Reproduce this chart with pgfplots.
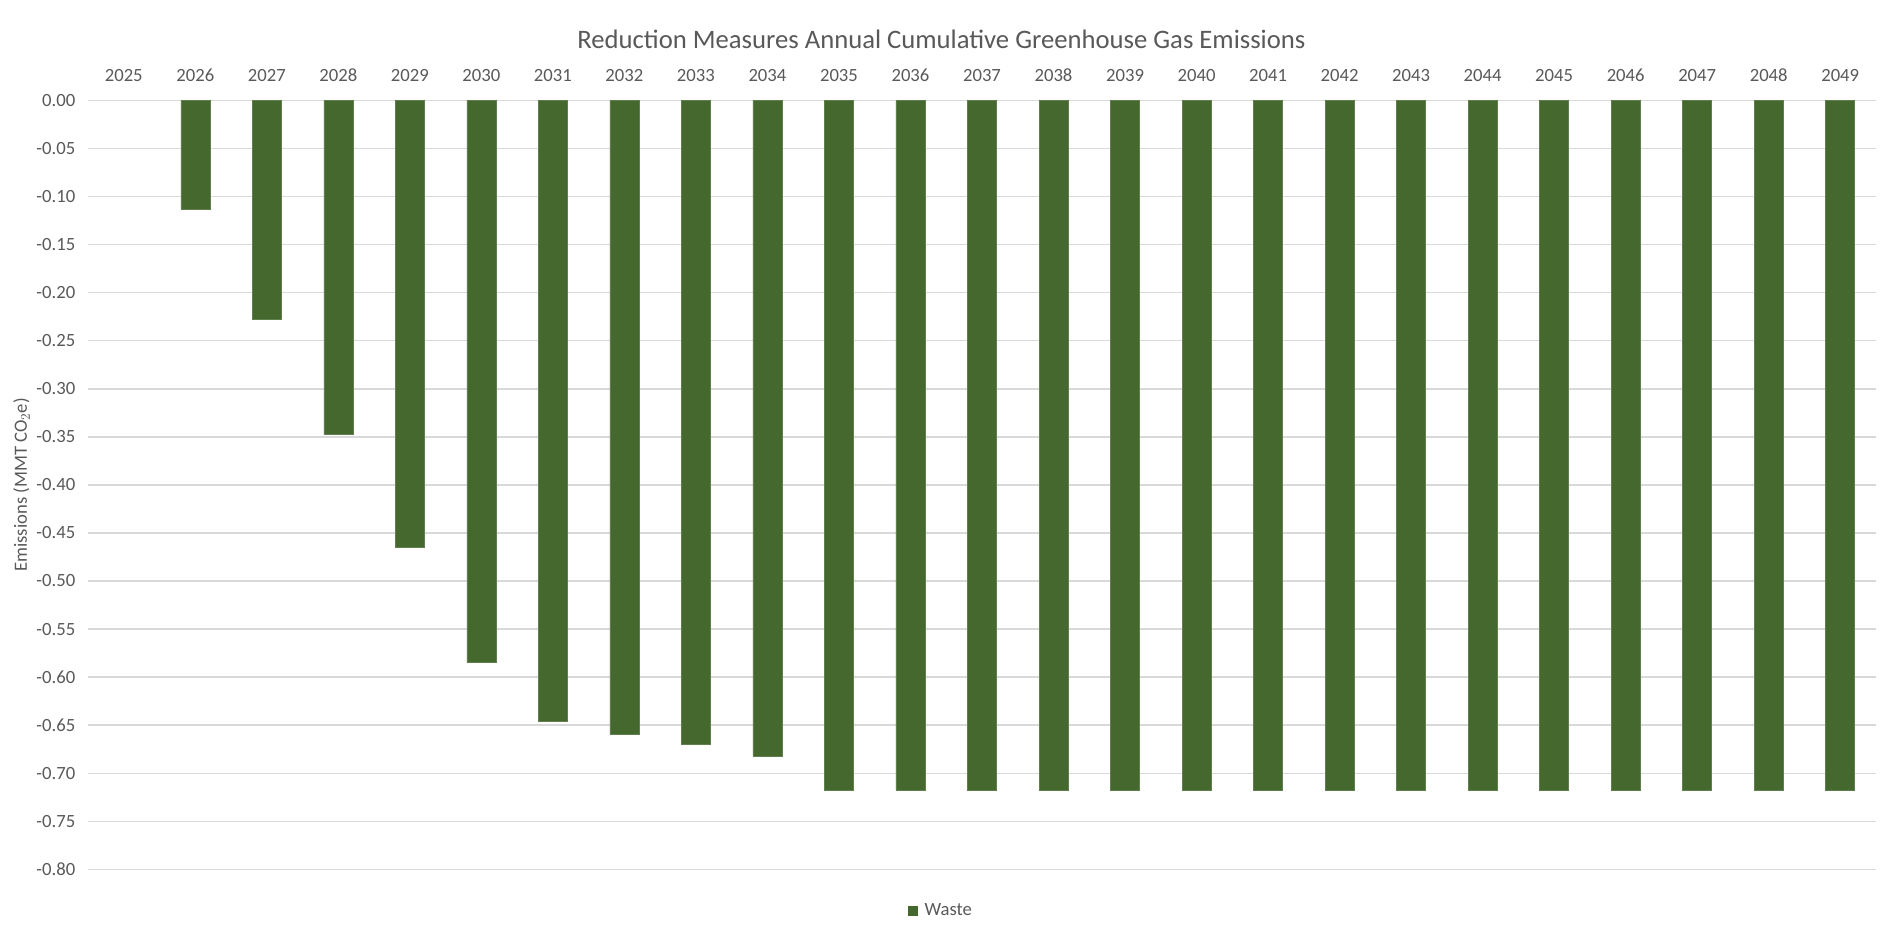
\documentclass[border=0pt]{standalone}
\usepackage{pgfplots}
\pgfplotsset{compat=1.18}
\usepackage{fontspec}
\setmainfont{Carlito}
\definecolor{barg}{RGB}{69,104,46}
\definecolor{txt}{RGB}{89,89,89}
\definecolor{grd}{RGB}{217,217,217}
\begin{document}
\begin{tikzpicture}
\path[use as bounding box] (0,0) rectangle (1412.25pt,702.75pt);
\begin{axis}[
  at={(66pt,50.8pt)}, anchor=south west,
  scale only axis, width=1341pt, height=576.5pt,
  xmin=-0.5, xmax=24.5, ymin=-0.8, ymax=0,
  axis line style={draw=none},
  major tick length=0pt,
  xtick={0,...,24},
  xticklabels={2025,2026,2027,2028,2029,2030,2031,2032,2033,2034,2035,2036,2037,2038,2039,2040,2041,2042,2043,2044,2045,2046,2047,2048,2049},
  xticklabel pos=upper,
  xticklabel style={font=\fontsize{14}{16}\selectfont, text=txt, yshift=11pt},
  ytick={0,-0.05,-0.1,-0.15,-0.2,-0.25,-0.3,-0.35,-0.4,-0.45,-0.5,-0.55,-0.6,-0.65,-0.7,-0.75,-0.8},
  yticklabels={0.00,-0.05,-0.10,-0.15,-0.20,-0.25,-0.30,-0.35,-0.40,-0.45,-0.50,-0.55,-0.60,-0.65,-0.70,-0.75,-0.80},
  yticklabel style={font=\fontsize{14}{16}\selectfont, text=txt, xshift=-6pt},
  ymajorgrids, major grid style={grd, line width=1pt},
  ylabel={Emissions (MMT CO$_2$e)},
  ylabel style={font=\fontsize{14}{16}\selectfont, text=txt, at={(rel axis cs:-0.0372,0.5)}, anchor=center},
  title={Reduction Measures Annual Cumulative Greenhouse Gas Emissions},
  title style={font=\fontsize{20}{24}\selectfont, text=txt, at={(0.4773,1.069)}, anchor=center},
  legend style={at={(0.4773,-0.054)}, anchor=center, draw=none, font=\fontsize{14}{16}\selectfont, text=txt, legend cell align=left},
  ybar, bar width=21.75pt, bar shift=0pt,
  clip=false,
]
\addplot[fill=barg, draw=barg!85!white, line width=0.4pt,
  legend image code/.code={\fill[barg] (0pt,-3.5pt) rectangle (7pt,3.5pt); \path (10pt,0pt);}] coordinates {
(1,-0.113) (2,-0.228) (3,-0.347) (4,-0.465) (5,-0.585) (6,-0.646) (7,-0.659) (8,-0.670) (9,-0.682)
(10,-0.718) (11,-0.718) (12,-0.718) (13,-0.718) (14,-0.718) (15,-0.718) (16,-0.718) (17,-0.718)
(18,-0.718) (19,-0.718) (20,-0.718) (21,-0.718) (22,-0.718) (23,-0.718) (24,-0.718)
};
\addlegendentry{Waste}
\end{axis}
\end{tikzpicture}
\end{document}
